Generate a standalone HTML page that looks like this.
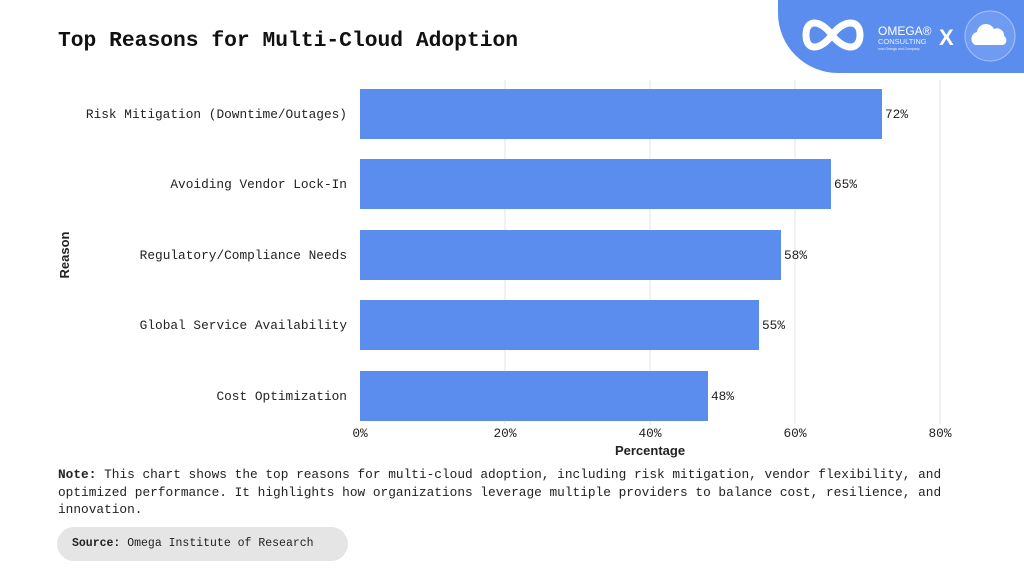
<!DOCTYPE html>
<html><head><meta charset="utf-8"><style>
body{margin:0;width:1024px;height:576px;background:#fff;position:relative;overflow:hidden;font-family:"Liberation Mono",monospace;color:#222}
.t{position:absolute;white-space:nowrap}
</style></head><body>
<div class="t" style="left:58px;top:29px;font-size:21.3px;font-weight:bold;color:#111">Top Reasons for Multi-Cloud Adoption</div>
<div style="position:absolute;left:778px;top:-10px;width:270px;height:83px;background:#5b8def;border-bottom-left-radius:60px"></div>
<svg style="position:absolute;left:780px;top:0" width="244" height="73">
<path d="M52 35 C40 19,26 19,26 35 C26 51,40 51,52 35 C64 19,80 19,80 35 C80 51,64 51,52 35" fill="none" stroke="#fff" stroke-width="7"/>
<text x="98" y="35" fill="#fff" font-family="Liberation Sans" font-size="12">OMEGA®</text>
<text x="98" y="44" fill="#e8efff" font-family="Liberation Sans" font-size="7.5">CONSULTING</text>
<text x="98" y="50" fill="#e8efff" font-family="Liberation Sans" font-size="3.5">now Omega and Company</text>
<text x="159" y="45" fill="#fff" font-family="Liberation Sans" font-weight="bold" font-size="22">X</text>
<circle cx="210" cy="36" r="25" fill="#6f9bf2" stroke="#a9c3f7" stroke-width="1"/>
<path d="M195 45 a7 7 0 0 1 2-13 a9 9 0 0 1 17-3 a7 7 0 0 1 10 7 a5 5 0 0 1 -1 9 z" fill="#fff"/>
</svg>
<svg style="position:absolute;left:0;top:0" width="1024" height="576" font-family="Liberation Mono, monospace" font-size="12.8" fill="#222">
<g stroke="#e3e3e3" stroke-width="1">
<line x1="505" y1="80" x2="505" y2="424"/><line x1="650" y1="80" x2="650" y2="424"/><line x1="795" y1="80" x2="795" y2="424"/><line x1="940" y1="80" x2="940" y2="424"/>
</g>
<g fill="#5b8def">
<rect x="360" y="89" width="522" height="50"/>
<rect x="360" y="159" width="471" height="50"/>
<rect x="360" y="230" width="421" height="50"/>
<rect x="360" y="300" width="399" height="50"/>
<rect x="360" y="371" width="348" height="50"/>
</g>
<g>
<text x="885" y="118">72%</text><text x="834" y="188">65%</text><text x="784" y="259">58%</text><text x="762" y="329">55%</text><text x="711" y="400">48%</text>
</g>
<g text-anchor="end">
<text x="347" y="118">Risk Mitigation (Downtime/Outages)</text>
<text x="347" y="188">Avoiding Vendor Lock-In</text>
<text x="347" y="259">Regulatory/Compliance Needs</text>
<text x="347" y="329">Global Service Availability</text>
<text x="347" y="400">Cost Optimization</text>
</g>
<g text-anchor="middle">
<text x="360" y="437">0%</text><text x="505" y="437">20%</text><text x="650" y="437">40%</text><text x="795" y="437">60%</text><text x="940" y="437">80%</text>
<text x="650" y="455" font-weight="bold" font-family="Liberation Sans" font-size="13">Percentage</text>
<text transform="translate(69,255) rotate(-90)" font-weight="bold" font-family="Liberation Sans" font-size="13">Reason</text>
</g>
</svg>
<div class="t" style="left:58px;top:466px;font-size:12.8px;line-height:17.5px;white-space:normal;width:900px">
<b>Note:</b> This chart shows the top reasons for multi-cloud adoption, including risk mitigation, vendor flexibility, and optimized performance. It highlights how organizations leverage multiple providers to balance cost, resilience, and innovation.</div>
<div style="position:absolute;left:57px;top:527px;width:291px;height:34px;background:#e5e5e5;border-radius:17px"></div>
<div class="t" style="left:72px;top:537px;font-size:11.5px"><b>Source:</b> Omega Institute of Research</div>
</body></html>
